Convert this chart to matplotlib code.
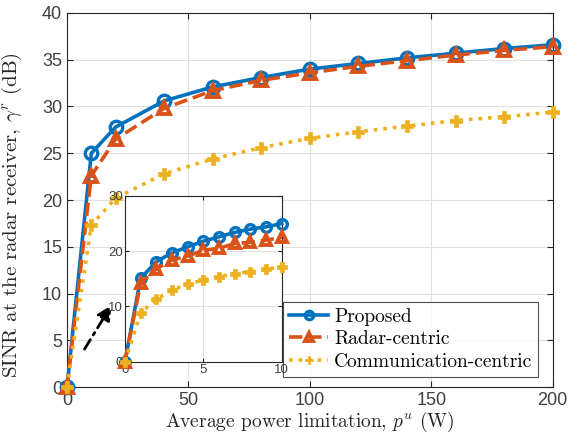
import matplotlib
matplotlib.use("Agg")
import matplotlib.pyplot as plt

# ---- data ----
p_main = [0, 10, 20, 40, 60, 80, 100, 120, 140, 160, 180, 200]
proposed_main = [0, 25.0, 27.8, 30.6, 32.1, 33.1, 34.0, 34.6, 35.2, 35.7, 36.2, 36.6]
radar_main = [0, 22.6, 26.5, 29.8, 31.7, 32.8, 33.6, 34.3, 34.9, 35.5, 36.0, 36.4]
comm_main = [0, 17.3, 20.2, 22.8, 24.4, 25.6, 26.6, 27.3, 27.9, 28.5, 28.9, 29.4]

p_inset = [0, 1, 2, 3, 4, 5, 6, 7, 8, 9, 10]
proposed_inset = [0, 15.1, 18.1, 19.7, 20.8, 21.8, 22.6, 23.4, 24.0, 24.4, 25.0]
radar_inset = [0, 14.2, 16.8, 18.4, 19.1, 20.2, 20.5, 21.4, 21.6, 22.0, 22.5]
comm_inset = [0, 8.8, 11.3, 13.0, 14.0, 14.8, 15.4, 15.9, 16.3, 16.7, 17.2]

labels = ["Proposed", "Radar-centric", "Communication-centric"]
main_xticks = [0, 50, 100, 150, 200]
main_yticks = [0, 5, 10, 15, 20, 25, 30, 35, 40]
inset_xticks = [0, 5, 10]
inset_yticks = [0, 10, 20, 30]

c1, c2, c3 = "#0072BD", "#D95319", "#EDB120"
plt.rcParams["mathtext.fontset"] = "cm"
tickfont = "Liberation Sans"
serif = "cmr10"

fig = plt.figure(figsize=(5.68, 4.42), dpi=100)
ax = fig.add_axes([0.118, 0.1244, 0.855, 0.8462])

def style(a, fs):
    a.grid(True, color="#e0e0e0", linewidth=0.8)
    a.set_axisbelow(True)
    for s in a.spines.values():
        s.set_color("#262626")
        s.set_linewidth(0.8)
    a.tick_params(direction="in", top=True, right=True, labelsize=fs,
                  colors="#262626", labelcolor="#404040", length=4, width=0.8)
    for lbl in a.get_xticklabels() + a.get_yticklabels():
        lbl.set_fontfamily(tickfont)

def draw(a, x, p, r, c, ms):
    a.plot(x, p, "-o", color=c1, lw=2.6, ms=ms, mfc="none", mew=2.4, label=labels[0], clip_on=False, zorder=5)
    a.plot(x, r, "--^", color=c2, lw=2.6, ms=ms, mfc="none", mew=2.8, label=labels[1], clip_on=False, zorder=6)
    a.plot(x, c, ":P", color=c3, lw=2.6, ms=ms, mfc=c3, mew=0.5, label=labels[2], clip_on=False, zorder=7)

draw(ax, p_main, proposed_main, radar_main, comm_main, 9)
ax.set_xlim(0, 200)
ax.set_ylim(0, 40)
ax.set_xticks(main_xticks)
ax.set_yticks(main_yticks)
style(ax, 13)
ax.set_xlabel(r"Average power limitation, $p^u$ (W)", fontfamily=serif, fontsize=14, color="#262626", labelpad=1)
ax.set_ylabel(r"SINR at the radar receiver, $\gamma^r$ (dB)", fontfamily=serif, fontsize=15, color="#262626")
ax.yaxis.set_label_coords(-0.088, 0.46)

leg = ax.legend(loc="lower right", bbox_to_anchor=(0.970, 0.027), prop={"family": serif, "size": 14},
                frameon=True, fancybox=False, edgecolor="#262626", handlelength=2.0,
                handletextpad=0.3, borderpad=0.3, labelspacing=0.25, borderaxespad=0)
leg.get_frame().set_linewidth(0.8)
leg.set_zorder(10)
for h in leg.legend_handles:
    h.set_markersize(6)

# arrow
ax.annotate("", xy=(18.9, 9.0), xytext=(6.6, 3.8),
            arrowprops=dict(arrowstyle="-|>", linestyle=(0, (4, 2, 1, 2)), color="black",
                            lw=2.0, mutation_scale=22))

ins = fig.add_axes([0.220, 0.1817, 0.276, 0.375])
ins.set_zorder(8)
draw(ins, p_inset, proposed_inset, radar_inset, comm_inset, 7)
ins.set_xlim(0, 10)
ins.set_ylim(0, 30)
ins.set_xticks(inset_xticks)
ins.set_yticks(inset_yticks)
style(ins, 9.5)
ins.tick_params(pad=1.5, length=3)

fig.savefig("out.png", dpi=100)
